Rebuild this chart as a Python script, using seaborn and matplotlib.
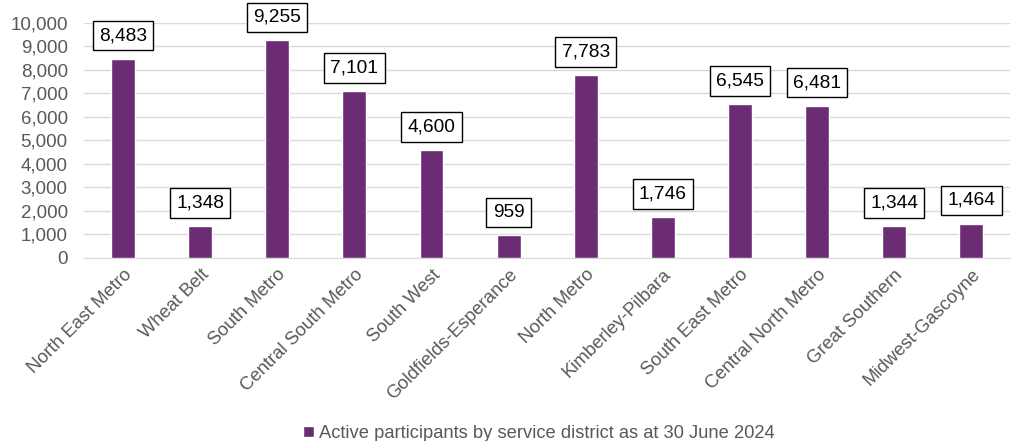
import numpy as np
import pandas as pd
import matplotlib
matplotlib.use("Agg")
import matplotlib.pyplot as plt
import seaborn as sns
from matplotlib.patches import Patch

# Data
districts = ["North East Metro", "Wheat Belt", "South Metro", "Central South Metro",
             "South West", "Goldfields-Esperance", "North Metro", "Kimberley-Pilbara",
             "South East Metro", "Central North Metro", "Great Southern", "Midwest-Gascoyne"]
participants = [8483, 1348, 9255, 7101, 4600, 959, 7783, 1746, 6545, 6481, 1344, 1464]
series_label = "Active participants by service district as at 30 June 2024"

BAR_COLOR = "#6B2C74"
GREY = "#595959"

sns.set_style("white")
plt.rcParams["font.family"] = ["Liberation Sans", "DejaVu Sans"]

df = pd.DataFrame({"district": districts, "value": participants})

fig = plt.figure(figsize=(10.18, 4.41), dpi=100)
ax = fig.add_axes([0.083, 0.415, 0.909, 0.533])

sns.barplot(data=df, x="district", y="value", color=BAR_COLOR, width=0.31,
            saturation=1, ax=ax, zorder=3)

ax.set_ylim(0, 10000)
ax.set_yticks(np.arange(0, 10001, 1000))
ax.set_yticklabels([f"{v:,}" for v in range(0, 10001, 1000)])
ax.set_xlim(-0.5, len(districts) - 0.5)
ax.grid(axis="y", color="#D9D9D9", linewidth=1, zorder=0)
ax.set_axisbelow(True)
for s in ["top", "right", "left"]:
    ax.spines[s].set_visible(False)
ax.spines["bottom"].set_color("#D9D9D9")
ax.set_xlabel(""); ax.set_ylabel("")
ax.tick_params(axis="y", labelsize=13.5, colors=GREY, length=0, pad=12)
ax.tick_params(axis="x", labelsize=13.3, colors=GREY, length=0, pad=6)
plt.setp(ax.get_xticklabels(), rotation=45, ha="right", rotation_mode="anchor")

# Value labels in boxes
for i, v in enumerate(participants):
    ax.annotate(f"{v:,}", xy=(i, v), xytext=(0, 10.5), textcoords="offset points",
                ha="center", va="bottom", fontsize=13.8, color="black",
                bbox=dict(boxstyle="square,pad=0.33", fc="white", ec="black", lw=1),
                zorder=5, annotation_clip=False)

handles = [Patch(facecolor=BAR_COLOR, label=series_label)]
fig.legend(handles=handles, loc="lower center", bbox_to_anchor=(0.529, -0.04),
           frameon=False, fontsize=13.2, handlelength=0.6, handleheight=0.6,
           handletextpad=0.25, labelcolor=GREY)

fig.savefig("out.png", dpi=100)
